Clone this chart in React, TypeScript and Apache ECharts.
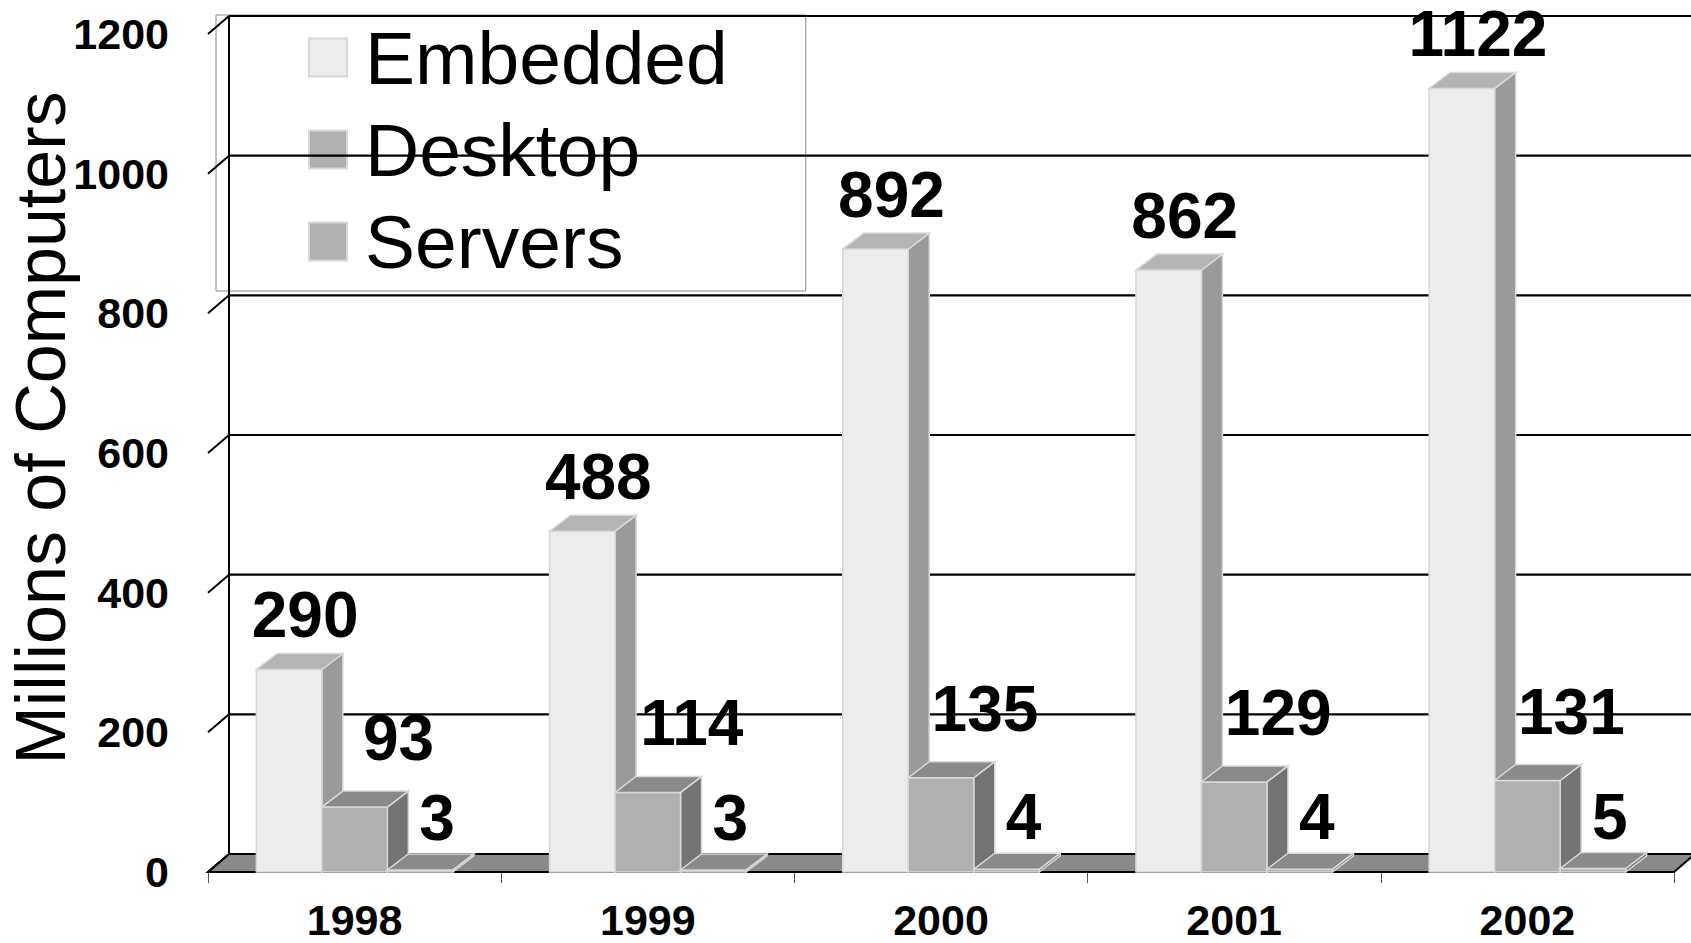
import React, { useEffect, useRef } from "react";
import * as echarts from "echarts";

const categories = ["1998", "1999", "2000", "2001", "2002"];
const embedded = [290, 488, 892, 862, 1122];
const desktop = [93, 114, 135, 129, 131];
const servers = [3, 3, 4, 4, 5];
const yTicks = [0, 200, 400, 600, 800, 1000, 1200];
const seriesNames = ["Embedded", "Desktop", "Servers"];
const seriesValues = [embedded, desktop, servers];

const FONT = '"Liberation Sans", Arial, Helvetica, sans-serif';
const WALL_DX = 21;
const WALL_DY = -18;
const BAR_DX = 21;
const BAR_DY = -16;
const BAR_FRAC = 0.2234;
const faces = [
  { front: "#ececec", top: "#b4b4b4", side: "#9a9a9a" },
  { front: "#b0b0b0", top: "#8a8a8a", side: "#747474" },
  { front: "#b0b0b0", top: "#8a8a8a", side: "#747474" },
];
const labelStyle = [
  { dx: 16, gap: 15 },
  { dx: 44, gap: 30 },
  { dx: 17, gap: 13 },
];

function makeBarRender(si: number) {
  return (params: any, api: any) => {
    const idx = api.value(0);
    const val = api.value(1);
    const base = api.coord([idx, 0]);
    const topP = api.coord([idx, val]);
    const band = api.size([1, 0])[0];
    const bw = band * BAR_FRAC;
    const x0 = base[0] - 1.5 * bw + si * bw;
    const x1 = x0 + bw;
    const yb = base[1];
    const yt = topP[1];
    const f = faces[si];
    const stroke = "#d8d8d8";
    return {
      type: "group",
      children: [
        {
          type: "polygon",
          shape: { points: [[x1, yt], [x1 + BAR_DX, yt + BAR_DY], [x1 + BAR_DX, yb + BAR_DY], [x1, yb]] },
          style: { fill: f.side, stroke, lineWidth: 1.5 },
        },
        {
          type: "rect",
          shape: { x: x0, y: yt, width: bw, height: yb - yt },
          style: { fill: f.front, stroke, lineWidth: 1.5 },
        },
        {
          type: "polygon",
          shape: { points: [[x0, yt], [x1, yt], [x1 + BAR_DX, yt + BAR_DY], [x0 + BAR_DX, yt + BAR_DY]] },
          style: { fill: f.top, stroke, lineWidth: 1.5 },
        },
        {
          type: "text",
          z2: 100,
          x: x0 + bw / 2 + labelStyle[si].dx,
          y: yt + BAR_DY - labelStyle[si].gap - 23,
          style: {
            text: String(val),
            fontSize: 64,
            lineHeight: 48,
            fontWeight: "bold",
            fontFamily: FONT,
            fill: "#000",
            align: "center",
            verticalAlign: "middle",
          },
        },
      ],
    };
  };
}

const renderWalls = (params: any, api: any) => {
  const cs = params.coordSys;
  const v = api.value(1);
  const y = api.coord([0, v])[1];
  const left = cs.x;
  const right = cs.x + cs.width;
  const children: any[] = [];
  if (v === 0) {
    children.push({
      type: "polygon",
      shape: { points: [[left, y], [right, y], [right + WALL_DX, y + WALL_DY], [left + WALL_DX, y + WALL_DY]] },
      style: { fill: "#8a8a8a", stroke: "#000", lineWidth: 2 },
    });
    const yTop = api.coord([0, yTicks[yTicks.length - 1]])[1];
    children.push({
      type: "line",
      shape: { x1: left + WALL_DX, y1: y + WALL_DY, x2: left + WALL_DX, y2: yTop + WALL_DY },
      style: { stroke: "#000", lineWidth: 2 },
    });
  }
  children.push({
    type: "line",
    shape: { x1: left + WALL_DX, y1: y + WALL_DY, x2: right + WALL_DX + 10, y2: y + WALL_DY },
    style: { stroke: "#000", lineWidth: 2.2 },
  });
  children.push({
    type: "line",
    shape: { x1: left, y1: y, x2: left + WALL_DX, y2: y + WALL_DY },
    style: { stroke: "#000", lineWidth: 2 },
  });
  return { type: "group", children };
};

export default function App() {
  const ref = useRef<HTMLDivElement>(null);
  useEffect(() => {
    document.body.style.margin = "0";
    if (!ref.current) return;
    const chart = echarts.init(ref.current, undefined, { renderer: "svg" });
    const barSeries = seriesNames.map((name, si) => ({
      name,
      type: "custom",
      z: 3,
      renderItem: makeBarRender(si),
      itemStyle: { color: faces[si].front, borderColor: "#d8d8d8", borderWidth: 2 },
      data: seriesValues[si].map((v, i) => [i, v]),
      encode: { x: 0, y: 1 },
    }));
    chart.setOption({
      animation: false,
      backgroundColor: "#fff",
      grid: { left: 208, right: 17, top: 34, bottom: 71 },
      legend: {
        z: 1,
        orient: "vertical",
        left: 216,
        top: 15,
        padding: [5, 78, 12, 92],
        itemWidth: 38,
        itemHeight: 38,
        itemGap: 17,
        icon: "rect",
        borderColor: "#888",
        borderWidth: 1,
        data: seriesNames,
        itemStyle: { borderColor: "#d8d8d8", borderWidth: 2 },
        textStyle: { fontSize: 75, fontFamily: FONT, color: "#000", lineHeight: 75, padding: [0, 0, 0, 13] },
      },
      xAxis: {
        type: "category",
        data: categories,
        axisLine: { show: true, lineStyle: { color: "#000", width: 2 } },
        axisTick: { show: true, length: 11, lineStyle: { color: "#555", width: 1 } },
        axisLabel: { fontSize: 43, fontWeight: "bold", color: "#000", fontFamily: FONT, margin: 26 },
        splitLine: { show: false },
      },
      yAxis: {
        type: "value",
        min: 0,
        max: 1200,
        interval: 200,
        axisLine: { show: false },
        axisTick: { show: false },
        splitLine: { show: false },
        axisLabel: {
          fontSize: 43,
          fontWeight: "bold",
          color: "#000",
          fontFamily: FONT,
          margin: 39,
          formatter: (v: number) => String(v),
        },
      },
      graphic: [
        {
          type: "text",
          x: 41,
          y: 428,
          rotation: Math.PI / 2,
          style: {
            text: "Millions of Computers",
            fontSize: 70,
            fontFamily: FONT,
            fill: "#000",
            align: "center",
            verticalAlign: "middle",
          },
        },
      ],
      series: [
        {
          name: "walls",
          type: "custom",
          z: 2,
          silent: true,
          renderItem: renderWalls,
          data: yTicks.map((v) => [0, v]),
          encode: { x: 0, y: 1 },
        },
        ...barSeries,
      ],
    });
    return () => chart.dispose();
  }, []);
  return <div ref={ref} style={{ width: 1691, height: 943 }} />;
}
